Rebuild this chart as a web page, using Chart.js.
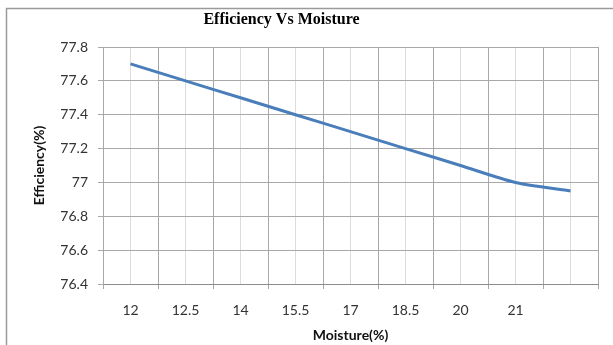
<!DOCTYPE html>
<html>
<head>
<meta charset="utf-8">
<script src="https://cdn.jsdelivr.net/npm/chart.js@4.4.0/dist/chart.umd.min.js"></script>
<style>
  html, body { margin: 0; padding: 0; background: #fff; }
  #wrap { width: 613px; height: 345px; }
</style>
</head>
<body>
<div id="wrap"><canvas id="chart" width="613" height="345"></canvas></div>
<script>
const moisture = ['12', '12.5', '14', '15.5', '17', '18.5', '20', '21', ''];
const efficiency = [77.7, 77.6, 77.5, 77.4, 77.3, 77.2, 77.1, 77.0, 76.95];
const chartTitle = 'Efficiency Vs Moisture';

const tickFont = { family: 'Lato', size: 14 };
const titleFont = { family: 'Lato', size: 14, weight: 'bold' };

// outer frame + title drawn off centre like the excel export
const frame = {
    id: 'frame',
    beforeDraw(chart) {
        const ctx = chart.ctx;
        ctx.save();
        ctx.fillStyle = '#fff';
        ctx.fillRect(0, 0, chart.width, chart.height);
        ctx.strokeStyle = '#9a9a9a';
        ctx.lineWidth = 1.5;
        ctx.strokeRect(6.5, 8.5, chart.width + 10, chart.height + 10);
        ctx.restore();
    },
    afterDraw(chart) {
        const ctx = chart.ctx;
        ctx.save();
        ctx.font = 'bold 16px "Liberation Serif"';
        ctx.fillStyle = '#000';
        ctx.textAlign = 'center';
        ctx.textBaseline = 'middle';
        ctx.fillText(chartTitle, 281.5, 20);
        ctx.restore();
    }
};

new Chart(document.querySelector('#chart').getContext('2d'), {
    type: 'line',
    data: {
        labels: moisture,
        datasets: [{
            label: 'Efficiency',
            data: efficiency,
            borderColor: '#4a7ebb',
            backgroundColor: '#4a7ebb',
            borderWidth: 3,
            pointRadius: 0,
            tension: 0.25
        }]
    },
    options: {
        responsive: false,
        animation: false,
        layout: { padding: { top: 47, right: 15, left: 0, bottom: 0 } },
        plugins: { legend: { display: false }, tooltip: { enabled: false } },
        scales: {
            x: {
                type: 'category',
                offset: true,
                grid: { offset: true, color: '#a8a8a8', tickLength: 5 },
                border: { color: '#8c8c8c' },
                ticks: { font: tickFont, color: '#333', padding: 13, maxRotation: 0, autoSkip: false },
                title: { display: true, text: 'Moisture(%)', font: titleFont, color: '#111', padding: { top: 0, bottom: 1 } },
                afterFit: s => { s.height = 61; }
            },
            x2: {
                type: 'category',
                position: 'bottom',
                labels: moisture,
                offset: true,
                grid: { offset: false, color: '#dcdcdc', drawTicks: false },
                border: { display: false },
                ticks: { display: false },
                afterFit: s => { s.height = 0; }
            },
            y: {
                min: 76.4,
                max: 77.8,
                ticks: {
                    stepSize: 0.2,
                    font: tickFont,
                    color: '#333',
                    padding: 10,
                    callback: v => String(Number(v.toFixed(1)))
                },
                grid: { color: '#a8a8a8', tickLength: 5 },
                border: { color: '#a8a8a8' },
                title: { display: true, text: 'Efficiency(%)', font: titleFont, color: '#111', padding: { top: 31, bottom: 0 } },
                afterFit: s => { s.width = 103; }
            }
        }
    },
    plugins: [frame]
});
</script>
</body>
</html>
